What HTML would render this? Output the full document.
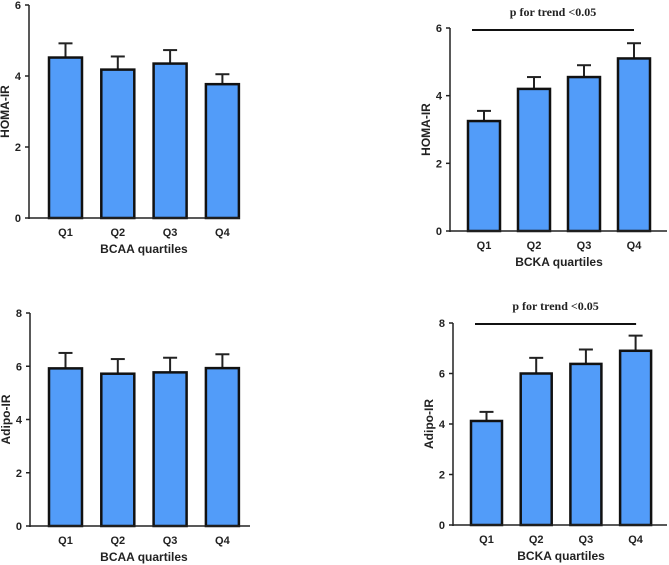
<!DOCTYPE html>
<html><head><meta charset="utf-8"><style>
html,body{margin:0;padding:0;background:#fff;}
svg{display:block;font-family:"Liberation Sans",Arial,sans-serif;}
.tk{font-size:11px;font-weight:bold;fill:#222;}
.tt{font-size:12px;font-weight:bold;fill:#222;}
.pt{font-family:"Liberation Serif",serif;font-size:12px;font-weight:bold;fill:#222;}
</style></head><body>
<svg id="c" width="669" height="565" viewBox="0 0 669 565"></svg>
<script>
const categories = ["Q1","Q2","Q3","Q4"];
const homaBcaaMean = [4.52,4.18,4.35,3.77];
const homaBcaaErr = [4.92,4.55,4.73,4.05];
const homaBckaMean = [3.25,4.2,4.55,5.1];
const homaBckaErr = [3.55,4.55,4.9,5.55];
const adipoBcaaMean = [5.92,5.72,5.77,5.93];
const adipoBcaaErr = [6.5,6.27,6.32,6.45];
const adipoBckaMean = [4.12,6.0,6.38,6.9];
const adipoBckaErr = [4.48,6.62,6.95,7.5];
const homaTicks = [0,2,4,6];
const adipoTicks = [0,2,4,6,8];

const svg = document.getElementById('c');
const NS = 'http://www.w3.org/2000/svg';
function mk(tag, attrs, parent){
  const e = document.createElementNS(NS, tag);
  for (const k in attrs) e.setAttribute(k, attrs[k]);
  (parent||svg).appendChild(e);
  return e;
}
function panel(p){
  const g = mk('g', {});
  
  
  const ymax = p.ticks[p.ticks.length-1];
  const y = v => p.y0 - (v/ymax)*(p.y0 - p.yTop);
  const bw = p.bw;
  const x = i => p.xFirst + i*p.step;
  categories.forEach((c,i)=>{
    const eb = mk('line',{x1:x(i)+bw/2,x2:x(i)+bw/2,y1:y(p.mean[i]),y2:y(p.err[i]),stroke:'#222','stroke-width':2},g);
    
    
    const cap = mk('line',{x1:x(i)+bw/2-7,x2:x(i)+bw/2+7,y1:y(p.err[i]),y2:y(p.err[i]),stroke:'#222','stroke-width':2},g);
    
    
    const r = mk('rect',{x:x(i),y:y(p.mean[i]),width:bw,height:p.y0-y(p.mean[i]),fill:'#529cf9',stroke:'#111','stroke-width':2.5},g);
    
    
    const t = mk('text',{x:x(i)+bw/2,y:p.y0+18,'text-anchor':'middle',class:'tk'},g);
    t.textContent = c;
    
    
  });
  const ya = mk('line',{x1:p.ax,x2:p.ax,y1:p.yTop,y2:p.y0+1,stroke:'#222','stroke-width':1.5},g);
  
  
  const xa = mk('line',{x1:p.ax,x2:p.xEnd,y1:p.y0,y2:p.y0,stroke:'#222','stroke-width':1.5},g);
  
  
  p.ticks.forEach(v=>{
    mk('line',{x1:p.ax-4,x2:p.ax,y1:y(v),y2:y(v),stroke:'#222','stroke-width':1.5},g);
    const t = mk('text',{x:p.ax-8,y:y(v)+4,'text-anchor':'end',class:'tk'},g);
    t.textContent = v;
    
    
  });
  const yt = mk('text',{x:0,y:0,transform:`translate(${p.ax-20},${(p.y0+p.yTop)/2}) rotate(-90)`,'text-anchor':'middle',class:'tt'},g);
  yt.textContent = p.ytitle;
  
  
  const xt = mk('text',{x:(x(0)+x(3)+bw)/2,y:p.y0+35,'text-anchor':'middle',class:'tt'},g);
  xt.textContent = p.xtitle;
  
  
  if (p.trend){
    const tl = mk('line',{x1:x(0)+4,x2:x(3)+16,y1:p.trendY,y2:p.trendY,stroke:'#111','stroke-width':2},g);
    
    
    const tx = mk('text',{x:(x(0)+x(3)+20)/2,y:p.trendY-14,'text-anchor':'middle',class:'pt'},g);
    tx.textContent = 'p for trend <0.05';
    
    
  }
}
panel({name:'homa-bcaa-chart',ax:29,y0:218,yTop:5,xFirst:49,step:52.3,bw:33,xEnd:240,ticks:homaTicks,mean:homaBcaaMean,err:homaBcaaErr,ytitle:'HOMA-IR',xtitle:'BCAA quartiles'});
panel({name:'homa-bcka-chart',ax:450,y0:231,yTop:28,xFirst:468,step:50,bw:32,xEnd:667,ticks:homaTicks,mean:homaBckaMean,err:homaBckaErr,ytitle:'HOMA-IR',xtitle:'BCKA quartiles',trend:true,trendY:30});
panel({name:'adipo-bcaa-chart',ax:30,y0:526,yTop:313,xFirst:49,step:52.3,bw:33,xEnd:250,ticks:adipoTicks,mean:adipoBcaaMean,err:adipoBcaaErr,ytitle:'Adipo-IR',xtitle:'BCAA quartiles'});
panel({name:'adipo-bcka-chart',ax:453,y0:525,yTop:323,xFirst:471,step:49.7,bw:31,xEnd:667,ticks:adipoTicks,mean:adipoBckaMean,err:adipoBckaErr,ytitle:'Adipo-IR',xtitle:'BCKA quartiles',trend:true,trendY:324});
</script>
</body></html>
